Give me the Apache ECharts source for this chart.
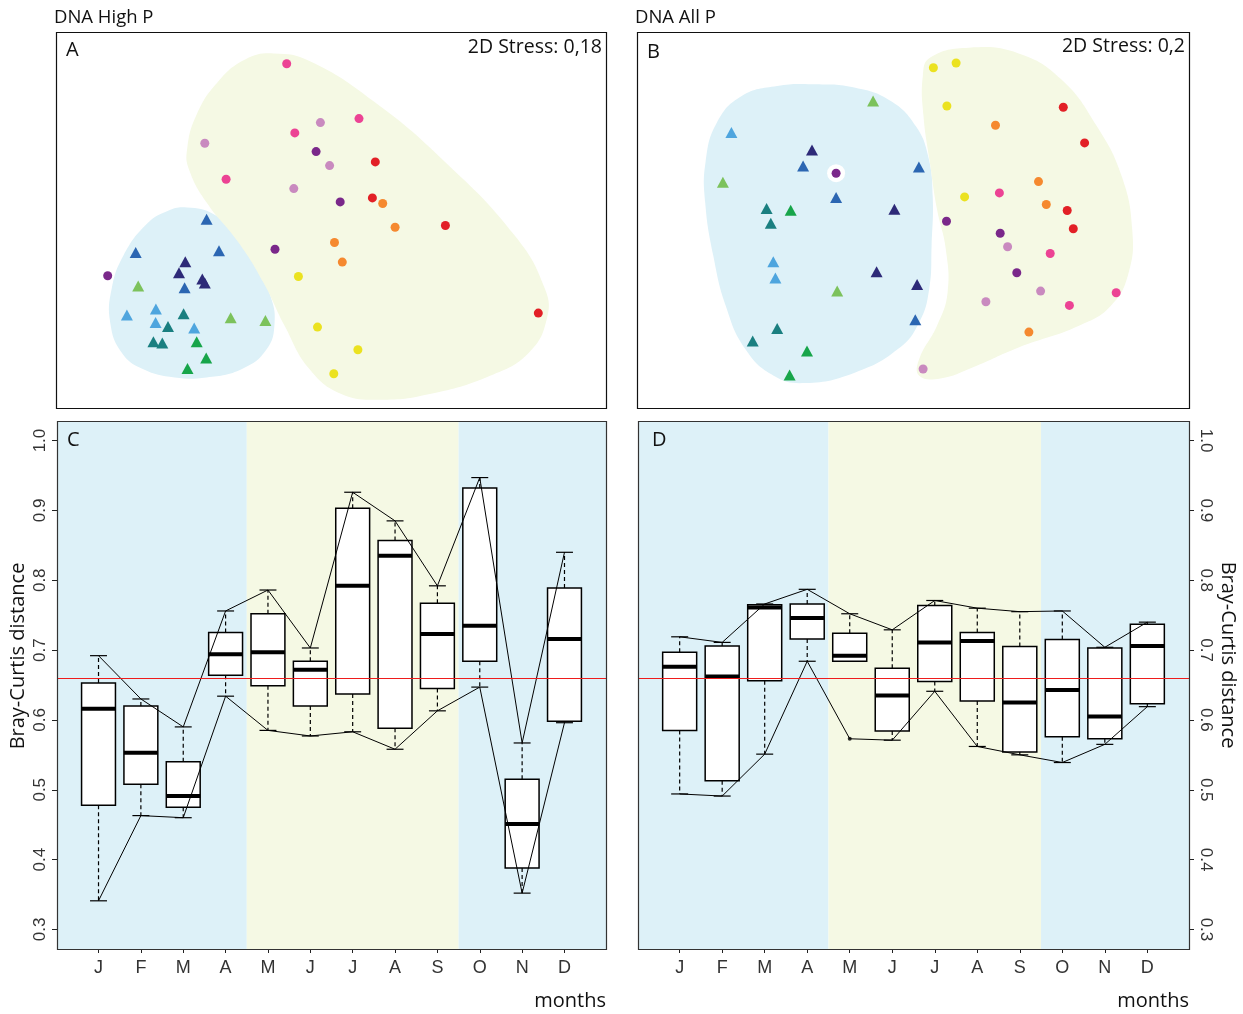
<!DOCTYPE html>
<html><head><meta charset="utf-8">
<script src="https://cdn.jsdelivr.net/npm/echarts@6/dist/echarts.min.js"></script>
<style>html,body{margin:0;padding:0;background:#fff}#c{width:1243px;height:1014px}</style>
</head><body><div id="c"></div>
<script>
// ---------- Panel A (DNA High P) NMDS coordinates ----------
const aNavy = [[129.3,146.2],[123.0,135.2],[146.3,128.9],[148.8,124.9]];
const aBlue = [[150.6,188.8],[79.7,155.5],[163.0,157.2],[128.6,120.2]];
const aLightBlue = [[99.9,98.9],[70.9,92.9],[99.6,85.6],[138.2,79.9]];
const aTeal = [[127.6,94.2],[112.0,81.6],[97.4,66.3],[106.3,64.9]];
const aGreen = [[140.7,66.3],[150.2,49.9],[131.5,39.6]];
const aLightGreen = [[82.2,121.9],[174.7,90.2],[209.4,87.6]];
const aPurple = [[51.7,132.2],[260.1,256.4],[284.2,206.1],[219.0,158.8]];
const aPink = [[230.7,344.3],[303.0,289.4],[238.8,275.1],[170.1,228.8]];
const aMauve = [[264.4,285.4],[148.8,264.7],[273.6,242.4],[237.8,219.4]];
const aRed = [[319.3,246.1],[316.4,210.1],[389.4,182.5],[482.3,94.9]];
const aOrange = [[326.7,204.5],[339.1,180.8],[278.5,165.5],[286.3,145.9]];
const aYellow = [[242.4,131.5],[261.5,80.9],[301.9,58.3],[277.8,34.3]];
const aBlobBlue = [[131.1,200.5],[157.7,193.8],[182.5,172.2],[200.2,145.5],[214.4,112.2],[218.6,85.6],[210.8,58.9],[186.0,39.0],[150.6,30.6],[118.7,30.6],[86.8,39.0],[65.6,55.6],[54.2,85.6],[55.6,118.9],[67.3,152.2],[90.4,183.8],[111.6,197.1]];
const aBlobYellow = [[217.9,354.6],[253.4,347.0],[317.2,307.0],[388.0,247.1],[458.9,172.2],[489.0,118.9],[490.8,88.9],[473.1,55.6],[434.1,32.3],[373.9,14.0],[324.2,8.3],[285.3,14.0],[253.4,39.0],[228.6,82.3],[207.4,125.5],[182.5,165.5],[150.6,205.5],[132.9,238.8],[131.1,258.7],[140.0,292.0],[161.2,325.3],[189.6,348.7]];

// ---------- Panel B (DNA All P) NMDS coordinates ----------
const bNavy = [[175.0,258.1],[257.4,198.8],[239.6,136.2],[280.1,123.5]];
const bBlue = [[166.1,242.1],[281.9,241.1],[199.1,210.5],[278.3,88.2]];
const bLightBlue = [[94.4,275.4],[136.3,146.2],[138.4,129.9]];
const bTeal = [[129.6,199.5],[133.8,184.8],[140.2,79.6],[115.7,66.9]];
const bGreen = [[153.7,197.8],[170.0,56.9],[152.6,33.0]];
const bLightGreen = [[236.1,307.0],[85.9,225.8],[200.2,116.9]];
const bPurple = [[199.1,234.8],[309.5,186.8],[363.2,174.8],[379.8,135.2]];
const bPink = [[362.4,215.1],[413.2,154.5],[479.2,115.2],[432.4,102.6]];
const bMauve = [[370.6,161.2],[403.6,116.9],[348.9,106.2],[286.1,39.0]];
const bRed = [[426.3,300.7],[447.6,265.1],[430.2,197.5],[436.3,179.2]];
const bOrange = [[358.5,282.7],[401.5,226.4],[409.3,203.5],[391.9,75.9]];
const bYellow = [[296.4,340.3],[319.1,345.0],[309.9,302.0],[327.6,211.1]];
const bHalo = [[199.1,234.8]];
const bBlobBlue = [[175.7,323.7],[218.3,320.3],[253.8,307.0],[278.7,282.0],[291.1,252.1],[295.7,212.1],[294.6,162.2],[292.2,118.9],[282.2,85.6],[260.9,58.9],[218.3,35.6],[168.6,25.0],[136.7,32.3],[108.3,58.9],[88.7,102.2],[76.3,152.2],[68.2,205.5],[68.5,245.4],[79.9,285.4],[104.7,312.0],[140.2,322.0]];
const bBlobYellow = [[292.9,350.3],[331.9,360.3],[381.6,354.6],[424.2,328.7],[459.7,282.0],[484.6,232.1],[495.2,178.8],[491.7,135.5],[473.9,102.2],[442.0,82.3],[381.6,60.6],[335.5,40.6],[303.5,29.6],[282.2,32.3],[282.2,49.0],[300.0,82.3],[310.6,115.6],[308.8,158.8],[300.0,198.8],[292.9,245.4],[286.5,292.0],[285.8,332.0]];

// ---------- Panels C & D: Bray-Curtis distance per month ----------
const months = ['J','F','M','A','M','J','J','A','S','O','N','D'];
const yTicks = [0.3,0.4,0.5,0.6,0.7,0.8,0.9,1.0];
const cLow  = [0.341,0.463,0.460,0.634,0.585,0.577,0.583,0.558,0.613,0.647,0.352,0.596];
const cQ1   = [0.478,0.508,0.475,0.664,0.649,0.620,0.637,0.588,0.645,0.684,0.388,0.598];
const cMed  = [0.616,0.553,0.491,0.694,0.697,0.672,0.792,0.835,0.723,0.735,0.451,0.716];
const cQ3   = [0.653,0.620,0.540,0.725,0.752,0.684,0.903,0.857,0.767,0.932,0.515,0.789];
const cHigh = [0.692,0.630,0.590,0.756,0.786,0.703,0.926,0.885,0.792,0.947,0.567,0.840];
const dLow  = [0.494,0.491,0.551,0.684,0.684,0.571,0.641,0.562,0.550,0.539,0.565,0.619];
const dQ1   = [0.585,0.513,0.656,0.716,0.684,0.584,0.655,0.627,0.554,0.576,0.573,0.623];
const dMed  = [0.676,0.662,0.761,0.746,0.692,0.635,0.711,0.713,0.625,0.643,0.605,0.706];
const dQ3   = [0.697,0.706,0.765,0.766,0.724,0.674,0.764,0.725,0.705,0.715,0.703,0.737];
const dHigh = [0.719,0.711,0.766,0.787,0.752,0.729,0.771,0.760,0.755,0.756,0.704,0.740];
const dOutliers = [[5,0.573]];
const refLine = 0.663;
// season bands (in month-position units): winter / summer / winter
const seasonBands = [[0.02,4.5,'w'],[4.5,9.5,'s'],[9.5,12.98,'w']];

// ---------- styling ----------
const COL = {navy:'#2d2a78',blue:'#2b66b2',lightBlue:'#4ea5de',teal:'#1a7f80',green:'#17a54a',lightGreen:'#7cc25c',
  purple:'#7a288a',pink:'#ec4394',mauve:'#c98abf',red:'#e22026',orange:'#f5892f',yellow:'#ebe220'};
const BAND = {w:'#ddf1f8', s:'#f5f9e4'};
const BLOB = {blue:'#ddf1f8', yellow:'#f5f9e4'};
const FH = '"Liberation Sans", Arial, sans-serif';
const FM = '"Open Sans", "Noto Sans", sans-serif';

const G = [
  {left:56, top:32, width:550, height:376},
  {left:637, top:32, width:552, height:376},
  {left:57, top:421, width:549, height:528},
  {left:638, top:421, width:551, height:528}
];

const chart = echarts.init(document.getElementById('c'), null, {renderer:'canvas'});

function blobSeries(gi, pts, color){
  return {type:'custom', xAxisIndex:gi, yAxisIndex:gi, z:1, silent:true, data:pts,
    renderItem:function(params, api){
      if (params.dataIndex !== 0) return null;
      return {type:'polygon', shape:{points: pts.map(p=>api.coord(p)), smooth:0.45}, style:{fill:color}};
    }};
}
function scatterSeries(gi, pts, color, shape, size, z){
  return {type:'scatter', xAxisIndex:gi, yAxisIndex:gi, z: z||3, symbol:shape,
    symbolSize: size || (shape==='triangle' ? [12,11] : 9),
    itemStyle:{color:color, opacity:1}, data:pts, silent:true};
}
function bandSeries(gi){
  return {type:'custom', xAxisIndex:gi, yAxisIndex:gi, z:0, silent:true, data:seasonBands,
    encode:{x:[0,1]},
    renderItem:function(params, api){
      const cs = params.coordSys;
      const x1 = api.coord([api.value(0), 0.5])[0];
      const x2 = api.coord([api.value(1), 0.5])[0];
      return {type:'rect', shape:{x:x1, y:cs.y, width:x2-x1, height:cs.height},
        style:{fill: BAND[seasonBands[params.dataIndex][2]]}};
    }};
}
function boxSeries(gi, lo, q1, md, q3, hi){
  const data = months.map((m,i)=>[i+1, lo[i], q1[i], md[i], q3[i], hi[i]]);
  return {type:'custom', xAxisIndex:gi, yAxisIndex:gi, z:2, silent:true, data:data,
    encode:{x:0, y:[1,2,3,4,5]},
    renderItem:function(params, api){
      const x = api.value(0);
      const pLo = api.coord([x, api.value(1)]);
      const pQ1 = api.coord([x, api.value(2)]);
      const pMd = api.coord([x, api.value(3)]);
      const pQ3 = api.coord([x, api.value(4)]);
      const pHi = api.coord([x, api.value(5)]);
      const w = api.size([0.8, 0])[0];
      const cw = api.size([0.4, 0])[0];
      const cx = pQ1[0];
      const dash = {stroke:'#000', lineWidth:1.2, lineDash:[4,3]};
      const solid = {stroke:'#000', lineWidth:1.2};
      return {type:'group', children:[
        {type:'line', shape:{x1:cx,y1:pQ3[1],x2:cx,y2:pHi[1]}, style:dash},
        {type:'line', shape:{x1:cx,y1:pQ1[1],x2:cx,y2:pLo[1]}, style:dash},
        {type:'line', shape:{x1:cx-cw/2,y1:pHi[1],x2:cx+cw/2,y2:pHi[1]}, style:solid},
        {type:'line', shape:{x1:cx-cw/2,y1:pLo[1],x2:cx+cw/2,y2:pLo[1]}, style:solid},
        {type:'rect', shape:{x:cx-w/2, y:pQ3[1], width:w, height:pQ1[1]-pQ3[1]}, style:{fill:'#fff', stroke:'#000', lineWidth:1.5}},
        {type:'line', shape:{x1:cx-w/2,y1:pMd[1],x2:cx+w/2,y2:pMd[1]}, style:{stroke:'#000', lineWidth:4}}
      ]};
    }};
}
function lineSeries(gi, vals, withRef){
  const s = {type:'line', xAxisIndex:gi, yAxisIndex:gi, z:4, silent:true, symbol:'none',
    lineStyle:{color:'#000', width:1}, data: vals.map((v,i)=>[i+1, v]), animation:false};
  if (withRef) s.markLine = {silent:true, symbol:'none', label:{show:false},
    lineStyle:{color:'#ee1c1c', width:1.2, type:'solid'}, data:[{yAxis:refLine}]};
  return s;
}

const dMinLine = dLow.map((v,i)=>{
  let m = v; dOutliers.forEach(o=>{ if (o[0]===i+1) m = Math.min(m, o[1]); }); return m;
});

function scatAxes(gi, w){
  return {
    x:{type:'value', gridIndex:gi, min:0, max:w, show:false},
    y:{type:'value', gridIndex:gi, min:0, max:376, show:false}
  };
}
function boxX(gi){
  return {type:'value', gridIndex:gi, min:0.02, max:12.98, position:'bottom',
    axisLine:{show:false}, splitLine:{show:false},
    axisTick:{show:true, customValues:months.map((m,i)=>i+1), length:4, lineStyle:{color:'#222'}},
    axisLabel:{customValues:months.map((m,i)=>i+1), formatter:v=>months[Math.round(v)-1],
      margin:10, fontSize:18, fontFamily:FH, color:'#333'}};
}
function boxY(gi, right){
  return {type:'value', gridIndex:gi, min:0.272, max:1.028, position: right?'right':'left',
    axisLine:{show:false}, splitLine:{show:false},
    axisTick:{show:true, customValues:yTicks, length:5, lineStyle:{color:'#222'}},
    axisLabel:{customValues:yTicks, formatter:v=>v.toFixed(1), rotate: right?-90:90,
      margin:8, fontSize:17, fontFamily:FH, color:'#333'}};
}

const sA = scatAxes(0,550), sB = scatAxes(1,552);

const txt = (x,y,text,size,align,extra) => Object.assign({type:'text', x:x, y:y, z:200,
  style:{text:text, font: size+'px '+FM, fill:'#111', textAlign:align||'left', textVerticalAlign:'middle', align:align||'left', verticalAlign:'middle'}}, extra||{});
const frame = (g,color) => ({type:'rect', z:150, silent:true,
  shape:{x:g.left+0.5, y:g.top+0.5, width:g.width, height:g.height}, style:{fill:null, stroke:color, lineWidth:1.2}});

const option = {
  animation:false,
  backgroundColor:'#fff',
  grid: G.map(g=>Object.assign({show:false, containLabel:false}, g)),
  xAxis:[sA.x, sB.x, boxX(2), boxX(3)],
  yAxis:[sA.y, sB.y, boxY(2,false), boxY(3,true)],
  series:[
    blobSeries(0, aBlobBlue, BLOB.blue), blobSeries(0, aBlobYellow, BLOB.yellow),
    scatterSeries(0, aNavy, COL.navy, 'triangle'), scatterSeries(0, aBlue, COL.blue, 'triangle'),
    scatterSeries(0, aLightBlue, COL.lightBlue, 'triangle'), scatterSeries(0, aTeal, COL.teal, 'triangle'),
    scatterSeries(0, aGreen, COL.green, 'triangle'), scatterSeries(0, aLightGreen, COL.lightGreen, 'triangle'),
    scatterSeries(0, aPurple, COL.purple, 'circle'), scatterSeries(0, aPink, COL.pink, 'circle'),
    scatterSeries(0, aMauve, COL.mauve, 'circle'), scatterSeries(0, aRed, COL.red, 'circle'),
    scatterSeries(0, aOrange, COL.orange, 'circle'), scatterSeries(0, aYellow, COL.yellow, 'circle'),

    blobSeries(1, bBlobBlue, BLOB.blue), blobSeries(1, bBlobYellow, BLOB.yellow),
    scatterSeries(1, bHalo, '#ffffff', 'circle', 18, 2),
    scatterSeries(1, bNavy, COL.navy, 'triangle'), scatterSeries(1, bBlue, COL.blue, 'triangle'),
    scatterSeries(1, bLightBlue, COL.lightBlue, 'triangle'), scatterSeries(1, bTeal, COL.teal, 'triangle'),
    scatterSeries(1, bGreen, COL.green, 'triangle'), scatterSeries(1, bLightGreen, COL.lightGreen, 'triangle'),
    scatterSeries(1, bPurple, COL.purple, 'circle'), scatterSeries(1, bPink, COL.pink, 'circle'),
    scatterSeries(1, bMauve, COL.mauve, 'circle'), scatterSeries(1, bRed, COL.red, 'circle'),
    scatterSeries(1, bOrange, COL.orange, 'circle'), scatterSeries(1, bYellow, COL.yellow, 'circle'),

    bandSeries(2), boxSeries(2, cLow, cQ1, cMed, cQ3, cHigh),
    lineSeries(2, cHigh, true), lineSeries(2, cLow, false),

    bandSeries(3), boxSeries(3, dLow, dQ1, dMed, dQ3, dHigh),
    lineSeries(3, dHigh, true), lineSeries(3, dMinLine, false),
    {type:'scatter', xAxisIndex:3, yAxisIndex:3, z:5, symbol:'circle', symbolSize:4, itemStyle:{color:'#000'}, data:dOutliers, silent:true}
  ],
  graphic:[
    frame(G[0],'#111'), frame(G[1],'#111'), frame(G[2],'#333'), frame(G[3],'#333'),
    txt(54,18,'DNA High P',18.5), txt(635,18,'DNA All P',18.5),
    txt(66,50,'A',20), txt(602,47,'2D Stress: 0,18',19.5,'right'),
    txt(647,52,'B',20), txt(1185,46,'2D Stress: 0,2',19.5,'right'),
    txt(67,440,'C',20), txt(652,440,'D',20),
    txt(606,1001,'months',20,'right'), txt(1189,1001,'months',20,'right'),
    txt(18,656,'Bray-Curtis distance',20,'center',{rotation:Math.PI/2}),
    txt(1228,655,'Bray-Curtis distance',20,'center',{rotation:-Math.PI/2})
  ]
};
chart.setOption(option);
</script></body></html>
